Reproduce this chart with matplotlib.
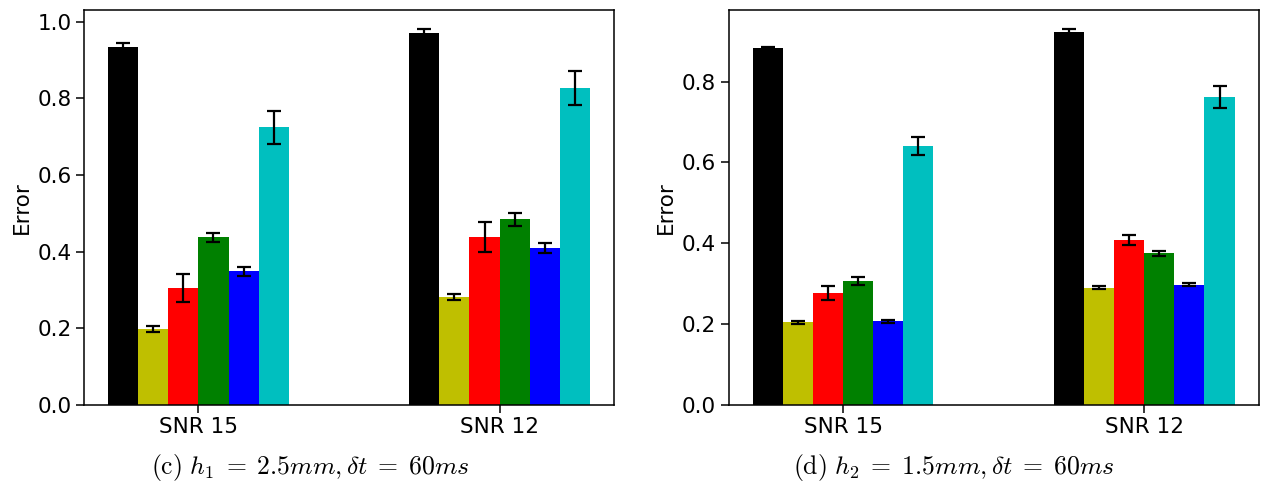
import matplotlib
matplotlib.use("Agg")
import matplotlib.pyplot as plt
import numpy as np

plt.rcParams['mathtext.fontset'] = 'cm'

groups = ["SNR 15", "SNR 12"]
colors = ['k', 'y', 'r', 'g', 'b', 'c']

# panel (c)
vals_c = [
    [0.933, 0.970],  # black
    [0.198, 0.282],  # yellow
    [0.304, 0.437],  # red
    [0.437, 0.484],  # green
    [0.348, 0.409],  # blue
    [0.724, 0.827],  # cyan
]
errs_c = [
    [0.011, 0.011],
    [0.008, 0.008],
    [0.036, 0.039],
    [0.012, 0.017],
    [0.011, 0.013],
    [0.042, 0.044],
]

# panel (d)
vals_d = [
    [0.882, 0.923],
    [0.204, 0.290],
    [0.277, 0.408],
    [0.306, 0.375],
    [0.206, 0.297],
    [0.640, 0.762],
]
errs_d = [
    [0.004, 0.007],
    [0.003, 0.003],
    [0.018, 0.013],
    [0.010, 0.006],
    [0.004, 0.004],
    [0.023, 0.028],
]

captions = [r"$\mathrm{(c)}\ h_1 \;=\; 2.5mm, \delta t \;=\; 60ms$",
            r"$\mathrm{(d)}\ h_2 \;=\; 1.5mm, \delta t \;=\; 60ms$"]

fig = plt.figure(figsize=(12.65, 4.87), dpi=100)
ax1 = fig.add_axes([0.0664, 0.169, 0.4190, 0.810])
ax2 = fig.add_axes([0.5760, 0.169, 0.4190, 0.810])

width = 0.1
x = np.arange(len(groups))
for ax, vals, errs in [(ax1, vals_c, errs_c), (ax2, vals_d, errs_d)]:
    for i, (v, e, c) in enumerate(zip(vals, errs, colors)):
        ax.bar(x - 0.25 + i * width, v, width, yerr=e, color=c,
               capsize=5, error_kw=dict(elinewidth=1.6, capthick=1.6, ecolor='k'))
    ax.set_xticks(x)
    ax.set_xticklabels(groups)
    ax.set_ylabel("Error", fontsize=15.5)
    ax.tick_params(labelsize=15.5, length=5.5, width=1.1)
    for s in ax.spines.values():
        s.set_linewidth(1.1)

fig.text(0.245, 0.041, captions[0], ha='center', va='center', fontsize=18.5)
fig.text(0.754, 0.041, captions[1], ha='center', va='center', fontsize=18.5)

fig.savefig("out.png", dpi=100)
